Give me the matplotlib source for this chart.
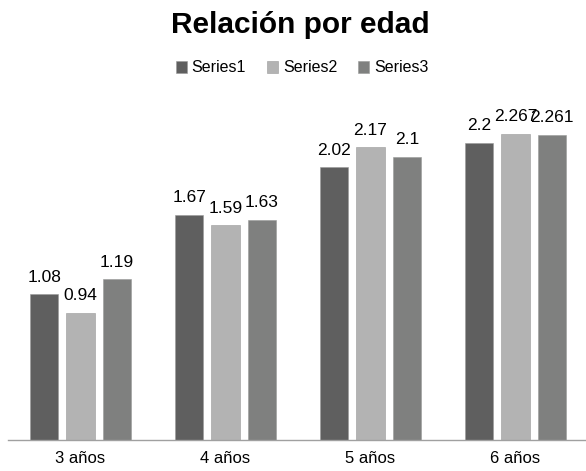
import matplotlib
matplotlib.use("Agg")
import matplotlib.pyplot as plt
import numpy as np

plt.rcParams['font.family'] = ['Liberation Sans', 'DejaVu Sans']

categories = ["3 años", "4 años", "5 años", "6 años"]
series_names = ["Series1", "Series2", "Series3"]
series1 = [1.08, 1.67, 2.02, 2.2]
series2 = [0.94, 1.59, 2.17, 2.267]
series3 = [1.19, 1.63, 2.1, 2.261]
colors = ["#5f5f5f", "#b3b3b3", "#7f807f"]

fig = plt.figure(figsize=(5.86, 4.71), dpi=100)
ax = fig.add_axes([8 / 586, 31 / 471, 580 / 586, 340 / 471])

x = np.arange(len(categories))
width = 0.195
step = 0.25
for i, (name, vals, c) in enumerate(zip(series_names, [series1, series2, series3], colors)):
    pos = x + (i - 1) * step
    bars = ax.bar(pos, vals, width, color=c, label=name, edgecolor="#9a9a9a", linewidth=0.4)
    for b, v in zip(bars, vals):
        ax.annotate(f"{v:g}", (b.get_x() + b.get_width() / 2, v), xytext=(0, 7),
                    textcoords="offset points", ha="center", va="bottom", fontsize=12.5)

ax.set_xlim(-0.5, len(categories) - 0.5)
ax.set_ylim(0, 2.52)
ax.set_yticks([])
for s in ["top", "right", "left"]:
    ax.spines[s].set_visible(False)
ax.spines["bottom"].set_color("#a0a0a0")
ax.spines["bottom"].set_linewidth(1)
ax.set_xticks(x)
ax.set_xticklabels(categories, fontsize=12)
ax.tick_params(axis="x", length=0, pad=8)

fig.text(300 / 586, 1 - 33 / 471, "Relación por edad", ha="center", va="baseline",
         fontsize=21.5, fontweight="bold")
fig.legend(loc="center", bbox_to_anchor=(302 / 586, 1 - 68 / 471), ncol=3, frameon=False,
           fontsize=11.5, handlelength=0.7, handleheight=0.7, handletextpad=0.3,
           columnspacing=1.3)

fig.savefig("out.png", dpi=100)
